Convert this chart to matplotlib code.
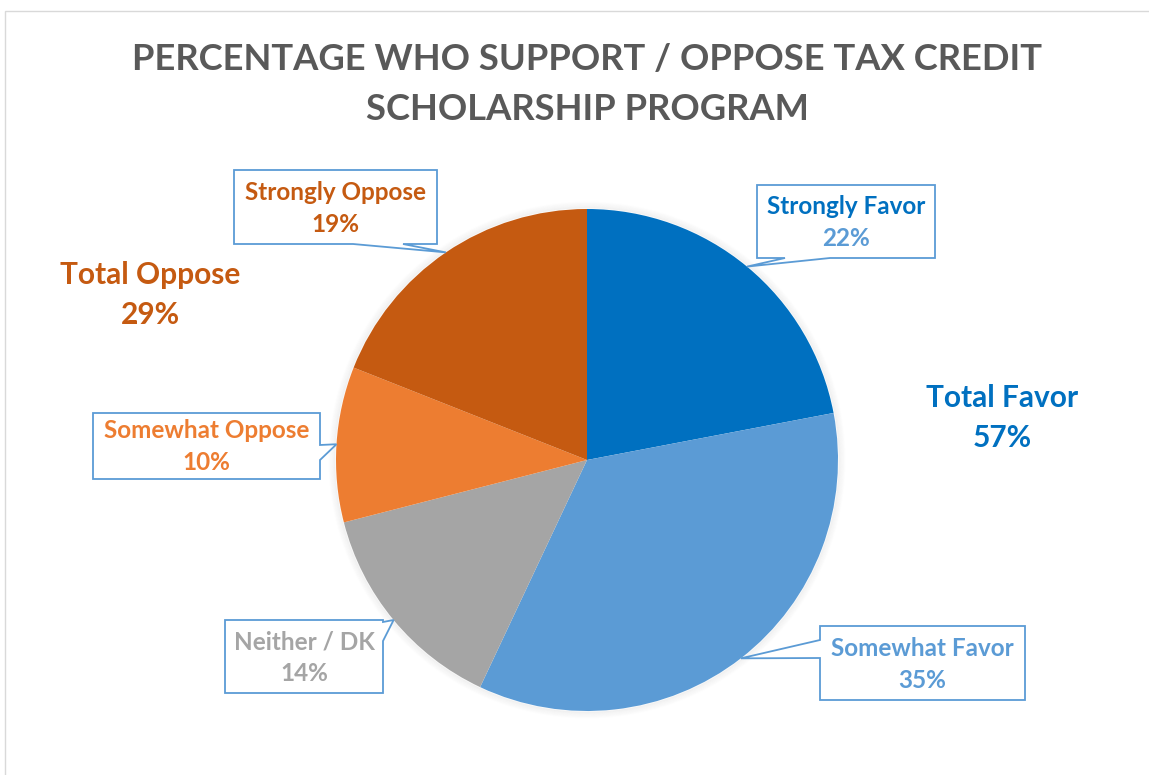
import matplotlib
matplotlib.use('Agg')
import matplotlib.pyplot as plt
import numpy as np
from matplotlib.patches import Polygon, Rectangle, Circle

W, H = 1149, 775

labels = ['Strongly Favor', 'Somewhat Favor', 'Neither / DK', 'Somewhat Oppose', 'Strongly Oppose']
shares = [22, 35, 14, 10, 19]
slice_colors = ['#0070C0', '#5B9BD5', '#A5A5A5', '#ED7D31', '#C55A11']
name_colors = ['#0070C0', '#5B9BD5', '#A5A5A5', '#ED7D31', '#C55A11']
pct_colors = ['#5B9BD5', '#5B9BD5', '#A5A5A5', '#ED7D31', '#C55A11']

total_labels = ['Total Favor', 'Total Oppose']
total_values = [57, 29]
total_colors = ['#0070C0', '#C55A11']

title_lines = ['PERCENTAGE WHO SUPPORT / OPPOSE TAX CREDIT', 'SCHOLARSHIP PROGRAM']

# callout boxes in pixel units (top-down): x0, y0, x1, y1, side of the pointer, pointer base
callouts = [
    (757, 185, 935, 258, 'bottom', (785, 830)),
    (820, 626, 1025, 700, 'left', (640, 658)),
    (225, 620, 383, 693, 'right', (622, 641)),
    (93, 413, 320, 479, 'right', (445, 460)),
    (234, 170, 437, 244, 'bottom', (353, 403)),
]
total_pos = [(1002, 398), (150, 275)]

CX, CY, R = 587, 460, 251
FONT = 'Lato'


def up(y):
    return H - y


def callout_outline(x0, y0, x1, y1, side, base, tip):
    b1, b2 = base
    if side == 'bottom':
        pts = [(x0, y0), (x1, y0), (x1, y1), (b2, y1), tip, (b1, y1), (x0, y1)]
    elif side == 'right':
        pts = [(x0, y0), (x1, y0), (x1, b1), tip, (x1, b2), (x1, y1), (x0, y1)]
    else:
        pts = [(x0, y0), (x1, y0), (x1, y1), (x0, y1), (x0, b2), tip, (x0, b1)]
    return [(x, up(y)) for x, y in pts]


fig = plt.figure(figsize=(W / 100, H / 100), dpi=100)
ax = fig.add_axes([0, 0, 1, 1])

# soft glow round the pie
for k in range(1, 8):
    ax.add_patch(Circle((CX, up(CY)), R + k, facecolor='none',
                        edgecolor='#000000', linewidth=1.2, alpha=0.035 * (8 - k) / 7))

wedges, _ = ax.pie(shares, colors=slice_colors, startangle=90, counterclock=False,
                   center=(CX, up(CY)), radius=R, wedgeprops=dict(linewidth=0))

for wedge, name, value, nc, pc, box in zip(wedges, labels, shares, name_colors, pct_colors, callouts):
    x0, y0, x1, y1, side, base = box
    mid = np.deg2rad((wedge.theta1 + wedge.theta2) / 2)
    tip = (CX + R * np.cos(mid), CY - R * np.sin(mid))
    ax.add_patch(Polygon(callout_outline(x0, y0, x1, y1, side, base, tip), closed=True,
                         facecolor='white', edgecolor='#5B9BD5', linewidth=1.3, zorder=3))
    xc, yc = (x0 + x1) / 2, (y0 + y1) / 2
    ax.text(xc, up(yc - 15), name, ha='center', va='center', color=nc,
            fontsize=17.5, fontweight='bold', family=FONT, zorder=4)
    ax.text(xc, up(yc + 17), f'{value}%', ha='center', va='center', color=pc,
            fontsize=17.5, fontweight='bold', family=FONT, zorder=4)

for name, value, color, (tx, ty) in zip(total_labels, total_values, total_colors, total_pos):
    ax.text(tx, up(ty), name, ha='center', va='center', color=color,
            fontsize=21.5, fontweight='bold', family=FONT)
    ax.text(tx, up(ty + 40), f'{value}%', ha='center', va='center', color=color,
            fontsize=21.5, fontweight='bold', family=FONT)

for i, line in enumerate(title_lines):
    ax.text(587, up(60 + 50 * i), line, ha='center', va='center', color='#595959',
            fontsize=26.2, fontweight='bold', family=FONT)

# chart area border
ax.add_patch(Rectangle((5, up(1200)), 1400, 1200 - 11, facecolor='none',
                       edgecolor='#D9D9D9', linewidth=1.0, clip_on=True))

ax.set_xlim(0, W)
ax.set_ylim(0, H)
ax.set_aspect('equal')
ax.axis('off')

fig.savefig('out.png', dpi=100, facecolor='white')
